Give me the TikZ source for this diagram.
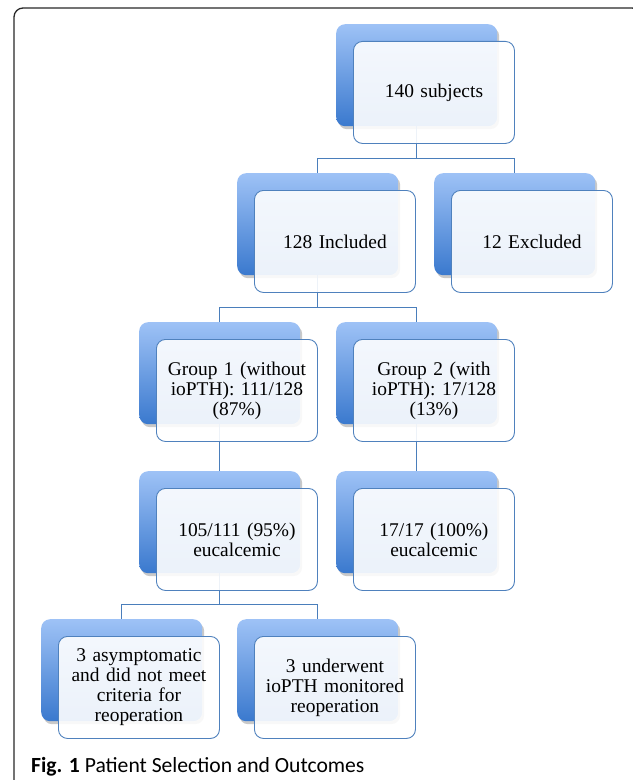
\documentclass[tikz,border=0pt]{standalone}
\usepackage{fontspec}
\setmainfont{Liberation Serif}
\newfontfamily\capfont{Carlito}
\usetikzlibrary{shadows}
\definecolor{backtop}{RGB}{158,194,246}
\definecolor{backbot}{RGB}{58,121,206}
\definecolor{edgeblue}{RGB}{79,129,189}
\definecolor{linkblue}{RGB}{74,126,187}
\definecolor{framegray}{RGB}{40,40,40}
\tikzset{
  backbox/.style={rectangle, rounded corners=9bp, minimum width=161bp, minimum height=102bp,
    anchor=north west, inner sep=0pt, draw=none,
    top color=backtop, bottom color=backbot,
    drop shadow={shadow xshift=2bp, shadow yshift=-3bp, opacity=0.3, fill=black!70}},
  frontbox/.style={rectangle, rounded corners=9bp, minimum width=161bp, minimum height=102bp,
    anchor=north west, inner sep=2bp, draw=edgeblue, line width=0.9bp,
    fill=white, fill opacity=0.9, text opacity=1, text width=150bp, align=center,
    font=\fontsize{19.5}{20}\selectfont},
  link/.style={draw=linkblue, line width=1.4bp},
}
\begin{document}
\begin{tikzpicture}[x=1bp, y=-1bp]
\useasboundingbox (0,0) rectangle (633,780);
\begin{scope}
\clip (0,0) rectangle (633,780);
\draw[framegray, line width=1.3bp, rounded corners=9bp] (14,8) rectangle (641,800);
\end{scope}
% back shapes
\node[backbox] (topB) at (336,24) {};
\node[backbox] (incB) at (237,173) {};
\node[backbox] (excB) at (434,173) {};
\node[backbox] (g1B) at (139,322) {};
\node[backbox] (g2B) at (336,322) {};
\node[backbox] (e1B) at (139,471) {};
\node[backbox] (e2B) at (336,471) {};
\node[backbox] (b1B) at (41,619) {};
\node[backbox] (b2B) at (237,619) {};
% connectors
\draw[link] (topB.south) -- ++(0,32) -| (incB.north);
\draw[link] (topB.south) -- ++(0,32) -| (excB.north);
\draw[link] (incB.south) -- ++(0,32) -| (g1B.north);
\draw[link] (incB.south) -- ++(0,32) -| (g2B.north);
\draw[link] (g1B.south) -- (e1B.north);
\draw[link] (g2B.south) -- (e2B.north);
\draw[link] (e1B.south) -- ++(0,31) -| (b1B.north);
\draw[link] (e1B.south) -- ++(0,31) -| (b2B.north);
% front shapes
\node[frontbox] (top) at (353,41) {140 subjects};
\node[frontbox] (inc) at (254,190) {128 Included};
\node[frontbox] (exc) at (451,190) {12 Excluded};
\node[frontbox] (g1) at (156,339) {Group 1 (without\\ ioPTH): 111/128\\ (87\%)};
\node[frontbox] (g2) at (353,339) {Group 2 (with\\ ioPTH): 17/128\\ (13\%)};
\node[frontbox] (e1) at (156,488) {105/111 (95\%)\\ eucalcemic};
\node[frontbox] (e2) at (353,488) {17/17 (100\%)\\ eucalcemic};
\node[frontbox] (b1) at (58,636) {3 asymptomatic\\ and did not meet\\ criteria for\\ reoperation};
\node[frontbox] (b2) at (254,636) {3 underwent\\ ioPTH monitored\\ reoperation};
% caption
\node[anchor=base west, inner sep=0pt, font=\capfont\fontsize{21.7}{24}\selectfont] (cap) at (31,772)
  {\textbf{Fig. 1} Patient Selection and Outcomes};
\end{tikzpicture}
\end{document}
